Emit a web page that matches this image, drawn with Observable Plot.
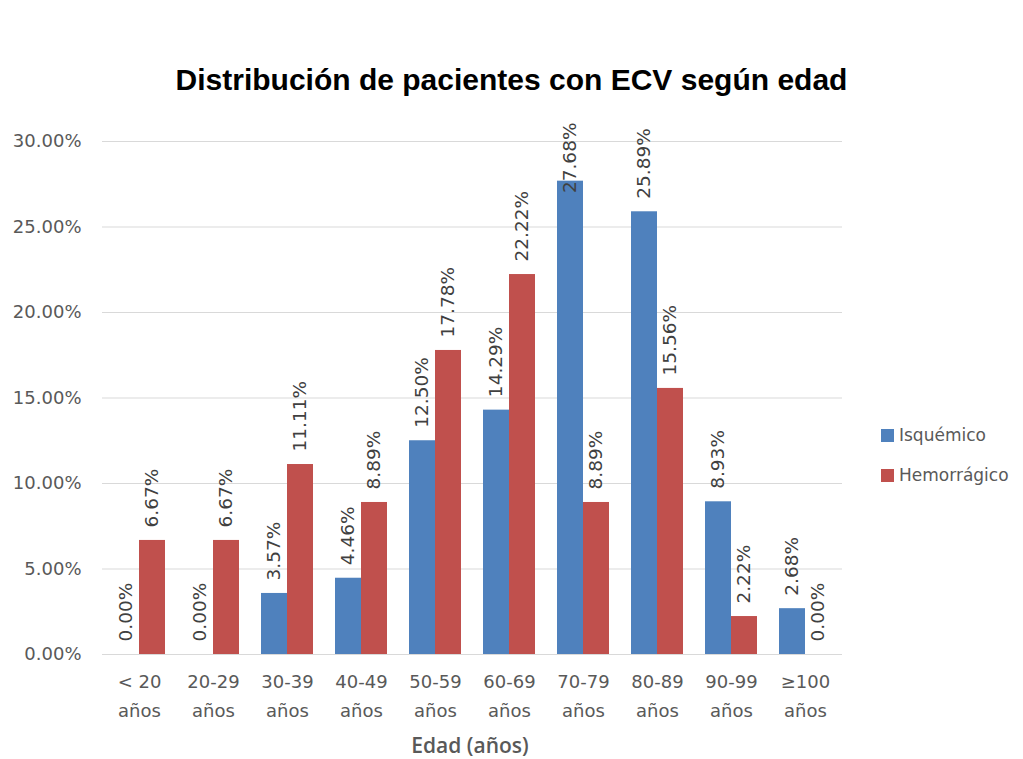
<!DOCTYPE html>
<html><head><meta charset="utf-8">
<script src="https://cdn.jsdelivr.net/npm/d3@7"></script>
<script src="https://cdn.jsdelivr.net/npm/@observablehq/plot@0.6"></script>
<style>
body{margin:0;background:#fff;width:1023px;height:759px;overflow:hidden;position:relative;font-family:"DejaVu Sans",sans-serif}
#title{position:absolute;left:0;width:1023px;top:63px;text-align:center;font:bold 30px "Liberation Sans",Arial,sans-serif;color:#000;white-space:nowrap;line-height:34px}
#chart{position:absolute;left:0;top:0}
#xlabel{position:absolute;left:370px;width:200px;top:731px;text-align:center;font:600 21px "Open Sans",sans-serif;color:#595959;line-height:28px}
.leg{position:absolute;left:881px;font:17px "DejaVu Sans",sans-serif;color:#595959;display:flex;align-items:center}
.leg span{display:inline-block;width:13px;height:13px;margin-right:5px}
</style></head>
<body>
<div id="chart"></div>
<div id="title">Distribución de pacientes con ECV según edad</div>
<div id="xlabel">Edad (años)</div>
<div class="leg" style="top:425px"><span style="background:#4F81BD"></span>Isquémico</div>
<div class="leg" style="top:465px"><span style="background:#C0504D"></span>Hemorrágico</div>
<script>
const categories = ["< 20", "20-29", "30-39", "40-49", "50-59", "60-69", "70-79", "80-89", "90-99", "≥100"];
const unitLabel = "años";
const series = ["Isquémico", "Hemorrágico"];
const isquemico = [0.00, 0.00, 3.57, 4.46, 12.50, 14.29, 27.68, 25.89, 8.93, 2.68];
const hemorragico = [6.67, 6.67, 11.11, 8.89, 17.78, 22.22, 8.89, 15.56, 2.22, 0.00];
const yTicks = [0, 5, 10, 15, 20, 25, 30];
const colors = ["#4F81BD", "#C0504D"];
const labelClamp = 26.2; // labels above this value are pinned to the top of the plot area

const rows = categories.flatMap((c, i) => [
  {cat: c, serie: series[0], v: isquemico[i]},
  {cat: c, serie: series[1], v: hemorragico[i]}
]);
const fmt = d => d.v.toFixed(2) + "%";

const chart = Plot.plot({
  width: 1023, height: 759,
  marginLeft: 102, marginRight: 181, marginTop: 141, marginBottom: 105,
  style: {fontFamily: "DejaVu Sans", fontSize: "18px", color: "#595959", background: "transparent"},
  fx: {domain: categories, padding: 0, label: null, axis: null},
  x: {domain: series, paddingInner: 0, paddingOuter: 0.42, axis: null},
  y: {domain: [0, 30], label: null},
  color: {domain: series, range: colors},
  marks: [
    Plot.gridY(yTicks, {stroke: "#d9d9d9", strokeOpacity: 1}),
    Plot.axisY(yTicks, {tickSize: 0, tickPadding: 21, tickFormat: d => d.toFixed(2) + "%", label: null}),
    Plot.barY(rows, {fx: "cat", x: "serie", y: "v", fill: "serie"}),
    Plot.text(rows.filter(d => d.v <= labelClamp), {fx: "cat", x: "serie", y: "v", text: fmt, rotate: -90, textAnchor: "start", dy: -13, fill: "#404040", fontSize: 18.5}),
    Plot.text(rows.filter(d => d.v > labelClamp), {fx: "cat", x: "serie", y: () => 30, text: fmt, rotate: -90, textAnchor: "end", dy: -19, fill: "#404040", fontSize: 18.5}),
    Plot.ruleY([0], {stroke: "#d9d9d9"}),
    Plot.axisFx({anchor: "bottom", tickSize: 0, tickPadding: 13, tickFormat: c => c + "\n" + unitLabel, lineHeight: 1.6, label: null})
  ]
});
document.getElementById("chart").appendChild(chart);
</script>
</body></html>
